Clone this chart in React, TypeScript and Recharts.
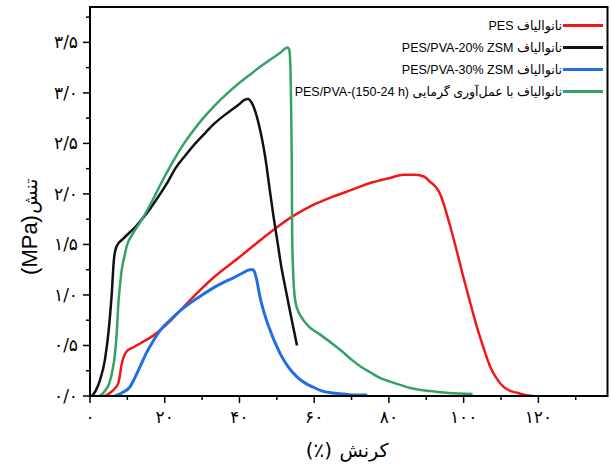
import React from "react";
import {
  LineChart,
  Line,
  XAxis,
  YAxis,
  Legend,
  ReferenceArea,
} from "recharts";

// strain (%) / stress (MPa) pairs for each nanofiber mat
const pesStrain = [4, 6, 7.6, 8.5, 9.8, 11.5, 13.4, 17, 21.4, 26.8, 33, 40.2, 45.5, 50.4, 54.3, 59.6, 64.8, 70, 75.2, 80.5, 83.9, 87, 89.5, 91, 92.5, 93.7, 95, 96.4, 98.2, 99.9, 101.7, 103.5, 105.3, 107.1, 108.9, 110.7, 112.5, 114.5, 116.5, 118.5];
const pesStress = [0, 0.05, 0.13, 0.32, 0.44, 0.48, 0.52, 0.6, 0.74, 0.95, 1.17, 1.38, 1.54, 1.68, 1.78, 1.89, 1.97, 2.04, 2.11, 2.16, 2.19, 2.19, 2.17, 2.12, 2.07, 2.0, 1.86, 1.68, 1.43, 1.18, 0.93, 0.69, 0.48, 0.29, 0.17, 0.09, 0.05, 0.03, 0.01, 0];

const zsm20Strain = [0.5, 1.5, 2.7, 4, 5, 5.8, 6.4, 7.1, 9, 12.3, 15, 17.7, 20.5, 23, 25.5, 28.2, 31, 33.4, 36, 38.6, 40, 41.3, 42.3, 43.3, 44.2, 44.9, 46, 47, 48, 49.1, 50.2, 51.2, 52.3, 53.3, 54.4, 55.4];
const zsm20Stress = [0, 0.05, 0.16, 0.36, 0.65, 1.0, 1.35, 1.48, 1.56, 1.68, 1.8, 1.94, 2.1, 2.26, 2.38, 2.5, 2.61, 2.7, 2.78, 2.85, 2.89, 2.93, 2.94, 2.9, 2.82, 2.73, 2.55, 2.34, 2.07, 1.78, 1.52, 1.28, 1.07, 0.88, 0.68, 0.5];

const zsm30Strain = [6.7, 8.5, 10.7, 12, 13.4, 15, 17, 19, 21.4, 24, 26.8, 30, 33, 35.5, 38.4, 40.5, 42.8, 43.7, 44.5, 45.5, 46.8, 48.2, 49.5, 50.9, 53, 55.4, 57.5, 59.6, 62, 64.8, 68, 71, 74.2];
const zsm30Stress = [0, 0.03, 0.09, 0.18, 0.29, 0.42, 0.55, 0.66, 0.75, 0.84, 0.92, 1.0, 1.07, 1.12, 1.17, 1.21, 1.25, 1.25, 1.17, 0.98, 0.8, 0.65, 0.53, 0.42, 0.29, 0.19, 0.13, 0.09, 0.05, 0.03, 0.02, 0.01, 0.01];

const heatStrain = [2.6, 4, 5.1, 6, 6.7, 7.2, 7.6, 8.1, 8.5, 9.2, 9.8, 11.5, 13.8, 16.5, 19.8, 22.5, 25, 27.5, 30.3, 33.5, 36.6, 39.7, 42.8, 46, 49.1, 51, 52.3, 52.9, 53.3, 53.6, 53.8, 54, 54.1, 54.4, 54.9, 55.6, 56.4, 58.5, 61.5, 64.8, 67.5, 70, 72.5, 75.2, 77.6, 80.5, 83, 85.7, 88.5, 91, 96, 102.4];
const heatStress = [0, 0.05, 0.12, 0.25, 0.42, 0.65, 0.92, 1.12, 1.25, 1.38, 1.48, 1.61, 1.74, 1.92, 2.16, 2.34, 2.49, 2.62, 2.75, 2.88, 2.99, 3.09, 3.18, 3.27, 3.35, 3.4, 3.44, 3.45, 3.43, 3.3, 2.93, 2.3, 1.61, 1.2, 0.95, 0.85, 0.79, 0.69, 0.61, 0.52, 0.44, 0.36, 0.29, 0.23, 0.18, 0.14, 0.11, 0.08, 0.06, 0.05, 0.03, 0.02];

const seriesNames = [
  "نانوالیاف PES",
  "نانوالیاف PES/PVA-20% ZSM",
  "نانوالیاف PES/PVA-30% ZSM",
  "نانوالیاف با عمل‌آوری گرمایی \u2066PES/PVA-(150-24 h)\u2069",
];
const seriesColors = ["#f01818", "#111111", "#2270dc", "#33a266"];

const xTicks = [0, 10, 20, 30, 40, 50, 60, 70, 80, 90, 100, 110, 120, 130];
const xMajorTicks = [0, 20, 40, 60, 80, 100, 120];
const xTickLabels = ["۰", "۲۰", "۴۰", "۶۰", "۸۰", "۱۰۰", "۱۲۰"];

const yTicks = [0, 0.25, 0.5, 0.75, 1, 1.25, 1.5, 1.75, 2, 2.25, 2.5, 2.75, 3, 3.25, 3.5, 3.75];
const yMajorTicks = [0, 0.5, 1, 1.5, 2, 2.5, 3, 3.5];
const yTickLabels = ["۰/۰", "۰/۵", "۱/۰", "۱/۵", "۲/۰", "۲/۵", "۳/۰", "۳/۵"];

// axis titles: word + unit, set as separate runs so the bidi order stays fixed
const xTitleWord = "کرنش";
const xTitleUnit = "(٪)";
const yTitleWord = "تنش";
const yTitleUnit = "(MPa)";

const xMax = 138.5;
const yMax = 3.85;

const toPoints = (xs: number[], ys: number[]) => xs.map((x, i) => ({ x, y: ys[i] }));

const series = [
  toPoints(pesStrain, pesStress),
  toPoints(zsm20Strain, zsm20Stress),
  toPoints(zsm30Strain, zsm30Stress),
  toPoints(heatStrain, heatStress),
];

const faFont = "'DejaVu Sans', sans-serif";
const latinFont = "'Liberation Sans', 'DejaVu Sans', sans-serif";

const XTick = (props: any) => {
  const { x, y, payload } = props;
  const i = xMajorTicks.indexOf(payload.value);
  return (
    <g>
      <line x1={x} x2={x} y1={y} y2={y + (i >= 0 ? 7 : 4)} stroke="#000" strokeWidth={1.5} />
      {i >= 0 && (
        <text x={x} y={y + 27} textAnchor="middle" fontSize={17} fontFamily={faFont} fill="#000">
          {xTickLabels[i]}
        </text>
      )}
    </g>
  );
};

const YTick = (props: any) => {
  const { x, y, payload } = props;
  const i = yMajorTicks.indexOf(payload.value);
  return (
    <g>
      <line x1={x} x2={x - (i >= 0 ? 7 : 4)} y1={y} y2={y} stroke="#000" strokeWidth={1.5} />
      {i >= 0 && (
        <text x={x - 12} y={y + 6} textAnchor="end" fontSize={17} fontFamily={faFont} fill="#000">
          {yTickLabels[i]}
        </text>
      )}
    </g>
  );
};

const XTitle = () => (
  <g>
    <text x={319} y={457} textAnchor="middle" fontSize={20} fontFamily={faFont} fill="#000">
      {xTitleUnit}
    </text>
    <text x={364} y={457} textAnchor="middle" fontSize={19} fontFamily={faFont} fill="#000">
      {xTitleWord}
    </text>
  </g>
);

// rotated frame: +x points up the page, so the unit sits below the word
const YTitle = () => (
  <g transform="translate(37 0) rotate(-90)">
    <text x={-245} y={0} textAnchor="middle" fontSize={22} fontFamily={latinFont} fill="#000">
      {yTitleUnit}
    </text>
    <text x={-196} y={0} textAnchor="middle" fontSize={19} fontFamily={faFont} fill="#000">
      {yTitleWord}
    </text>
  </g>
);

const LegendBox = () => (
  <div style={{ fontFamily: latinFont, fontSize: 12.5 }}>
    {seriesNames.map((name, i) => (
      <div
        key={name}
        style={{ display: "flex", justifyContent: "flex-end", alignItems: "center", height: 22 }}
      >
        <span dir="rtl" style={{ whiteSpace: "nowrap", color: "#000" }}>
          {name}
        </span>
        <span
          style={{ display: "inline-block", width: 40, height: 3, marginLeft: 1, background: seriesColors[i] }}
        />
      </div>
    ))}
  </div>
);

export default function App() {
  return (
    <div style={{ position: "absolute", left: 0, top: 0, width: 611, height: 466, background: "#fff" }}>
      <LineChart width={611} height={466} margin={{ top: 7, right: 3.5, bottom: 0, left: 0 }}>
        <XAxis
          type="number"
          dataKey="x"
          domain={[0, xMax]}
          ticks={xTicks}
          allowDataOverflow
          height={70}
          tickSize={0}
          tickMargin={0}
          tickLine={false}
          axisLine={{ stroke: "#000", strokeWidth: 2 }}
          tick={<XTick />}
          label={{ position: "bottom", content: () => <XTitle /> }}
        />
        <YAxis
          type="number"
          dataKey="y"
          domain={[0, yMax]}
          ticks={yTicks}
          allowDataOverflow
          width={90}
          tickSize={0}
          tickMargin={0}
          tickLine={false}
          axisLine={{ stroke: "#000", strokeWidth: 2 }}
          tick={<YTick />}
          label={{ position: "left", content: () => <YTitle /> }}
        />
        <ReferenceArea x1={0} x2={xMax} y1={0} y2={yMax} fill="none" stroke="#000" strokeWidth={2} />
        {series.map((pts, i) => (
          <Line
            key={seriesNames[i]}
            data={pts}
            dataKey="y"
            name={seriesNames[i]}
            type="monotone"
            stroke={seriesColors[i]}
            strokeWidth={i === 2 ? 3 : 2.5}
            dot={false}
            activeDot={false}
            isAnimationActive={false}
          />
        ))}
        <Legend
          layout="horizontal"
          verticalAlign="middle"
          align="center"
          wrapperStyle={{ position: "absolute", top: 14, right: 8, left: "auto", width: "auto", height: "auto" }}
          content={() => <LegendBox />}
        />
      </LineChart>
    </div>
  );
}
